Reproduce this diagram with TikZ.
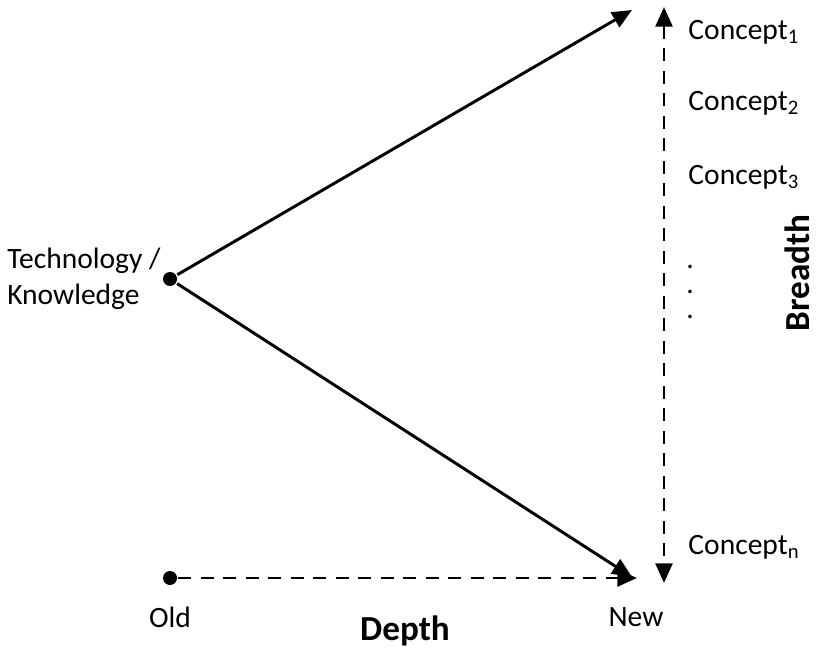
\documentclass[tikz,border=0pt]{standalone}
\usepackage{fontspec}
\setmainfont{Carlito}
\usetikzlibrary{arrows.meta}

\begin{document}
\begin{tikzpicture}[x=0.025cm, y=-0.025cm, line width=2.1pt,
    >={Triangle[length=14pt, width=12pt]},
    label/.style={font=\fontsize{21}{26}\selectfont, inner sep=0pt},
    axis label/.style={font=\fontsize{25}{30}\selectfont\bfseries, inner sep=0pt},
    dot/.style={circle, fill, inner sep=0pt, minimum size=0.35cm},
    dashline/.style={dash pattern=on 9pt off 7pt}]
  \useasboundingbox (0,0) rectangle (816,649);

  \node (tech) [dot] at (170,279) {};
  \node (tech-text) [label, anchor=east, align=left] at (162,279) {Technology /\\Knowledge};
  \coordinate (top-end) at (632,10);
  \coordinate (bottom-end) at (632,577);

  \node (concept-1) [label, anchor=west] at (687,32) {Concept\textsubscript{1}};
  \node (concept-2) [label, anchor=west] at (687,103) {Concept\textsubscript{2}};
  \node (concept-3) [label, anchor=west] at (687,177) {Concept\textsubscript{3}};
  \node (vdots) [label, align=center] at (690,292) {.\\[-8pt].\\[-8pt].};
  \node (concept-n) [label, anchor=west] at (687,547) {Concept\textsubscript{n}};
  \coordinate (breadth-top) at (664,7);
  \coordinate (breadth-bottom) at (664,583);
  \node (breadth) [axis label, rotate=90] at (797,273) {Breadth};

  \node (old-dot) [dot] at (170,578) {};
  \coordinate (new-end) at (637,578);
  \node (old) [label] at (170,617) {Old};
  \node (new) [label] at (636,617) {New};
  \node (depth) [axis label] at (405,631) {Depth};

  \draw[->] (tech) -- (top-end);
  \draw[->] (tech) -- (bottom-end);
  \draw[<->, dashline] (breadth-top) -- (breadth-bottom);
  \draw[->, dashline] (old-dot) -- (new-end);
\end{tikzpicture}
\end{document}
